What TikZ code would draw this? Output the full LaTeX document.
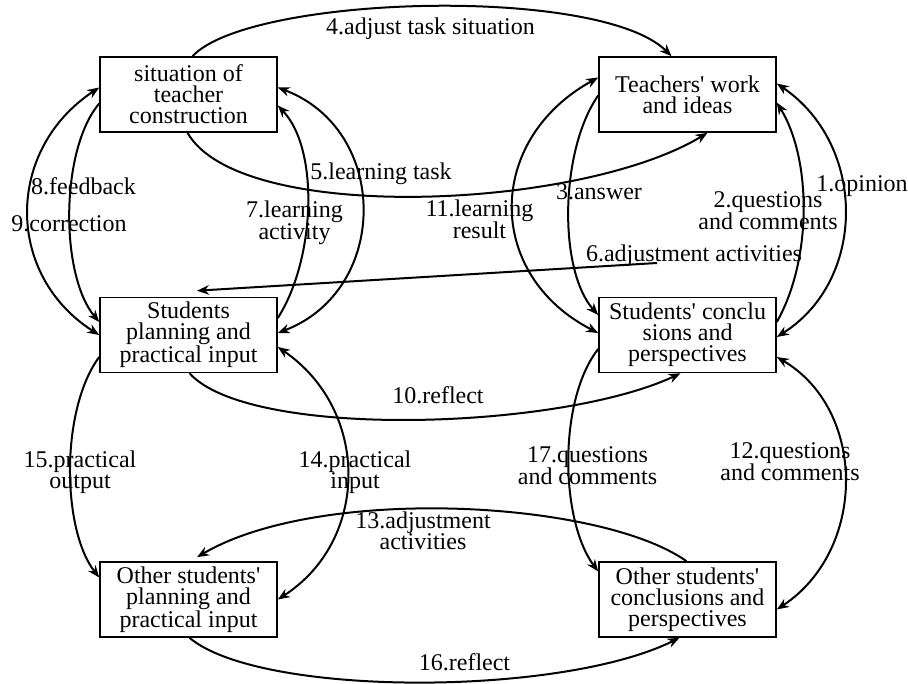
\documentclass[tikz,border=0pt]{standalone}
\usepackage{fontspec}
\setmainfont{Liberation Serif}
\usetikzlibrary{arrows.meta,calc}
\begin{document}
\begin{tikzpicture}[x=1pt,y=-1pt,
  box/.style={draw,line width=1.6pt,minimum width=177pt,minimum height=75pt,inner sep=0pt,align=center,font=\fontsize{24}{21}\selectfont},
  lbl/.style={anchor=base,align=center,inner sep=0pt,font=\fontsize{24}{21}\selectfont},
  conn/.style={line width=2pt},
  tip/.style={-{Stealth[length=12pt,width=9.5pt]}},
  both/.style={{Stealth[length=12pt,width=9.5pt]}-{Stealth[length=12pt,width=9.5pt]}}]
\useasboundingbox (0,0) rectangle (908,684);
\fill[white] (0,0) rectangle (908,684);

% boxes
\node[box] (A) at (188.5,94.5) {situation of\\teacher\\construction};
\node[box] (B) at (687.5,94.5) {Teachers\textquotesingle{} work\\and ideas};
\node[box] (C) at (188.5,335) {Students\\planning and\\practical input};
\node[box] (D) at (687.5,335) {Students\textquotesingle{} conclu\\sions and\\perspectives};
\node[box] (E) at (188.5,599.5) {Other students\textquotesingle\\planning and\\practical input};
\node[box] (F) at (687.5,599.5) {Other students\textquotesingle\\conclusions and\\perspectives};

% 4 adjust task situation
\draw[conn,tip] ($(A.north)+(4,0)$) .. controls (250,-5) and (600,-15) .. ($(B.north)+(-16,0)$);
% 5 learning task
\draw[conn,tip] ($(A.south)+(-1,0)$) .. controls (240,225) and (580,210) .. ($(B.south)+(20,0)$);
% 8/9 outer
\draw[conn,both] ($(A.west)+(0,-7)$) .. controls (5,150) and (5,275) .. (C.west);
% 8/9 inner
\draw[conn,tip] ($(A.west)+(0,9)$) .. controls (60,150) and (60,275) .. ($(C.west)+(0,-13)$);
% 7 inner
\draw[conn,tip] ($(C.east)+(0,-17)$) .. controls (315,260) and (320,150) .. ($(A.east)+(0,11)$);
% 7 outer
\draw[conn,both] ($(A.east)+(0,-7)$) .. controls (390,130) and (390,290) .. ($(C.east)+(0,-2)$);
% 11 outer
\draw[conn,both] ($(B.west)+(0,-17)$) .. controls (485,140) and (485,275) .. ($(D.west)+(0,-2)$);
% 3 inner
\draw[conn,tip] ($(B.west)+(0,1)$) .. controls (560,150) and (558,270) .. ($(D.west)+(0,-20)$);
% 1 outer
\draw[conn,both] ($(B.east)+(0,-11)$) .. controls (867,145) and (867,280) .. ($(D.east)+(0,2)$);
% 2 inner
\draw[conn,tip] ($(D.east)+(0,-13)$) .. controls (812,260) and (812,160) .. ($(B.east)+(0,8)$);
% 6 adjustment activities
\coordinate (s6) at (657,263);
\draw[conn,tip] (s6) -- ($(C.north)+(8.5,-6)$);
% 10 reflect
\draw[conn,tip] ($(C.south)+(1,0)$) .. controls (250,440) and (560,430) .. ($(D.south)+(-7,0)$);
% 17
\draw[conn,tip] ($(D.west)+(0,14)$) .. controls (558,400) and (560,520) .. ($(F.west)+(0,-28)$);
% 12 outer
\draw[conn,both] ($(D.east)+(0,22)$) .. controls (867,410) and (867,550) .. ($(F.east)+(0,10)$);
% 13
\draw[conn,tip] ($(F.north)+(-1,0)$) .. controls (600,500) and (320,485) .. ($(E.north)+(8.5,-4)$);
% 15
\draw[conn,tip] ($(C.west)+(0,22)$) .. controls (60,410) and (62,530) .. ($(E.west)+(0,-22)$);
% 14 outer
\draw[conn,both] ($(C.east)+(0,12)$) .. controls (370,410) and (370,540) .. (E.east);
% 16 reflect
\draw[conn,tip] ($(E.south)+(1,0)$) .. controls (260,697) and (560,697) .. ($(F.south)+(-8,0)$);

% labels (base = baseline of last line)
\node[lbl] (l4) at (430.5,35) {4.adjust task situation};
\node[lbl] (l5) at (381,180) {5.learning task};
\node[lbl] (l8) at (83.5,195) {8.feedback};
\node[lbl] (l9) at (69,232) {9.correction};
\node[lbl] (l7) at (294.5,240) {7.learning\\activity};
\node[lbl] (l11) at (479.5,239) {11.learning\\result};
\node[lbl] (l3) at (599,200) {3.answer};
\node[lbl] (l2) at (768,230) {2.questions\\and comments};
\node[lbl] (l1) at (862,192) {1.opinion};
\node[lbl] (l6) at (694,262) {6.adjustment activities};
\node[lbl] (l10) at (438,404) {10.reflect};
\node[lbl] (l15) at (80,489) {15.practical\\output};
\node[lbl] (l14) at (355,489) {14.practical\\input};
\node[lbl] (l17) at (587.5,485) {17.questions\\and comments};
\node[lbl] (l12) at (790,481) {12.questions\\and comments};
\node[lbl] (l13) at (423,549) {13.adjustment\\activities};
\node[lbl] (l16) at (464.5,670) {16.reflect};
\end{tikzpicture}
\end{document}
